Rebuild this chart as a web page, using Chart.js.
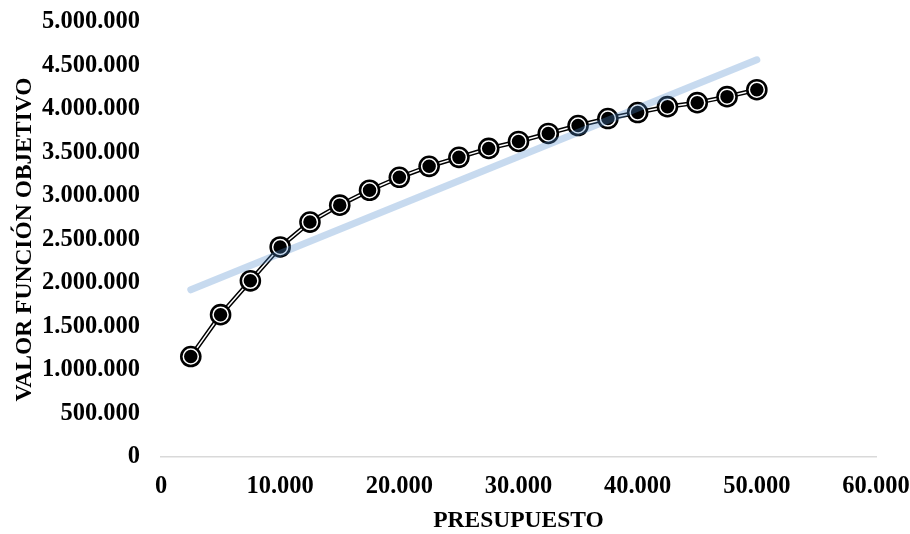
<!DOCTYPE html>
<html>
<head>
<meta charset="utf-8">
<script src="https://cdn.jsdelivr.net/npm/chart.js@4"></script>
<style>
  html, body { margin: 0; padding: 0; background: #fff; }
  #wrap { width: 910px; height: 534px; position: relative; }
</style>
</head>
<body>
<div id="wrap"><canvas id="c" width="910" height="534"></canvas></div>
<script>
// Budget levels (x) and objective-function value reached at each level (y)
const presupuesto = [2500, 5000, 7500, 10000, 12500, 15000, 17500, 20000, 22500, 25000,
                     27500, 30000, 32500, 35000, 37500, 40000, 42500, 45000, 47500, 50000];
const valorObjetivo = [1155000, 1636000, 2025000, 2414000, 2700000, 2895000, 3066000, 3215000, 3341000, 3444000,
                       3547000, 3627000, 3719000, 3810000, 3890000, 3959000, 4027000, 4073000, 4142000, 4222000];
// Linear trend line endpoints
const trendX = [2500, 50000];
const trendY = [1922000, 4565000];
// Axis ticks
const xTicks = [0, 10000, 20000, 30000, 40000, 50000, 60000];
const yTicks = [0, 500000, 1000000, 1500000, 2000000, 2500000, 3000000, 3500000, 4000000, 4500000, 5000000];

const fmt = v => String(v).replace(/\B(?=(\d{3})+(?!\d))/g, '.');
const pts = presupuesto.map((x, i) => ({ x, y: valorObjetivo[i] }));
const trend = trendX.map((x, i) => ({ x, y: trendY[i] }));

const family = '"Liberation Serif", "Times New Roman", serif';
const tickFont = { family, size: 24.5, weight: 'bold' };
const titleFont = { family, size: 23.5, weight: 'bold' };
Chart.defaults.color = '#000';

new Chart(document.getElementById('c'), {
  type: 'line',
  data: {
    datasets: [
      { data: trend, borderColor: 'rgba(80,140,205,0.32)', borderWidth: 7, borderCapStyle: 'round',
        pointRadius: 0, fill: false, order: 0 },
      { data: pts, showLine: false, pointRadius: 7.5, pointBackgroundColor: '#000',
        pointBorderColor: '#fff', pointBorderWidth: 1.5, order: 1 },
      { data: pts, showLine: false, pointRadius: 10.8, pointBackgroundColor: '#000',
        pointBorderWidth: 0, order: 2 },
      { data: pts, borderColor: '#fff', borderWidth: 1.5, pointRadius: 0, fill: false, order: 3 },
      { data: pts, borderColor: '#000', borderWidth: 4.5, pointRadius: 0, fill: false, order: 4 }
    ]
  },
  options: {
    responsive: false,
    animation: false,
    events: [],
    layout: { padding: { left: 7, top: 22, right: 0, bottom: 0 } },
    plugins: { legend: { display: false }, tooltip: { enabled: false } },
    scales: {
      x: {
        type: 'linear', min: 0, max: 60000,
        afterBuildTicks: s => { s.ticks = xTicks.map(v => ({ value: v })); },
        afterFit: s => { s.height = 77; s.paddingRight = 34; },
        grid: { display: false, drawTicks: false },
        border: { display: true, color: '#d9d9d9', width: 1.5 },
        ticks: { font: tickFont, padding: 15, maxRotation: 0, autoSkip: false, callback: v => fmt(v) },
        title: { display: true, text: 'PRESUPUESTO', font: titleFont, padding: { top: 4, bottom: -1 } }
      },
      y: {
        type: 'linear', min: 0, max: 5000000,
        afterBuildTicks: s => { s.ticks = yTicks.map(v => ({ value: v })); },
        afterFit: s => { s.width = 154; s.paddingTop = 0; s.paddingBottom = 0; },
        grid: { display: false, drawTicks: false },
        border: { display: false },
        ticks: { font: tickFont, padding: 21, autoSkip: false, callback: v => fmt(v) },
        title: { display: true, text: 'VALOR FUNCIÓN OBJETIVO', font: titleFont, padding: { top: 4, bottom: 4 } }
      }
    }
  }
});
</script>
</body>
</html>
